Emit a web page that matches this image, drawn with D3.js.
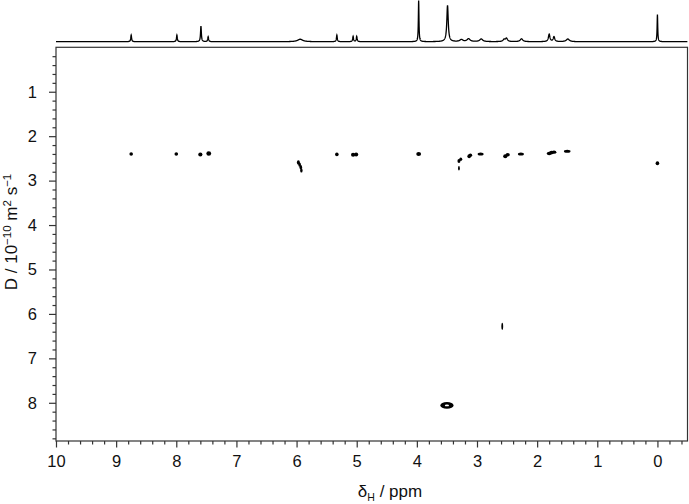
<!DOCTYPE html>
<html><head><meta charset="utf-8">
<script src="https://cdn.jsdelivr.net/npm/d3@7/dist/d3.min.js"></script>
<style>body{margin:0;background:#fff}svg{display:block}text{font-family:"Liberation Sans",Arial,sans-serif;fill:#111}</style>
</head><body><div id="chart"></div>
<script>
// 1D projection spectrum: peak positions (ppm), heights (rel.), half-widths (ppm)
const peakPpm    = [8.75, 7.99, 7.59, 7.47, 5.94, 5.33, 5.06, 5.00, 3.97, 3.49, 3.26, 3.14, 2.93, 2.55, 2.51, 2.26, 1.80, 1.72, 1.49, 0.00];
const peakHeight = [0.16, 0.16, 0.38, 0.12, 0.06, 0.16, 0.13, 0.13, 1.00, 0.88, 0.05, 0.07, 0.065, 0.05, 0.08, 0.07, 0.18, 0.12, 0.065, 0.66];
const peakWidth  = [0.008,0.008,0.008,0.008,0.05,0.008,0.008,0.008,0.006,0.014,0.03,0.03,0.03,0.02,0.02,0.025,0.015,0.015,0.03,0.006];

// DOSY contour blobs: centre (ppm, D) and half-sizes (ppm, D)
const blobPpm = [8.75, 8.00, 7.60, 7.46, 5.97, 5.95, 5.93, 5.92, 5.33, 5.06, 5.01, 3.97, 3.30, 3.27, 3.30, 3.13, 3.11, 2.94, 2.53, 2.49, 2.27, 1.80, 1.76, 1.72, 1.50, 0.00, 2.58, 3.50];
const blobD   = [2.40, 2.40, 2.41, 2.39, 2.59, 2.64, 2.70, 2.77, 2.41, 2.42, 2.41, 2.40, 2.56, 2.52, 2.72, 2.45, 2.43, 2.40, 2.45, 2.42, 2.40, 2.39, 2.37, 2.36, 2.34, 2.61, 6.28, 8.06];
const blobRx  = [0.03, 0.03, 0.035,0.04, 0.025,0.022,0.022,0.02, 0.03, 0.035,0.035,0.04, 0.025,0.025,0.015,0.03, 0.03, 0.05, 0.035,0.035,0.05, 0.04, 0.04, 0.04, 0.055,0.03, 0.015,0.11];
const blobRy  = [0.04, 0.04, 0.045,0.05, 0.05, 0.05, 0.05, 0.05, 0.04, 0.045,0.045,0.045,0.045,0.04, 0.05, 0.045,0.04, 0.035,0.045,0.04, 0.035,0.04, 0.04, 0.035,0.035,0.045,0.08, 0.075];
const holePpm = [3.50], holeD = [8.06], holeRx = [0.035], holeRy = [0.02];

const xMajor = [10,9,8,7,6,5,4,3,2,1,0];
const yMajor = [1,2,3,4,5,6,7,8];

const W = 689, H = 504;
const svg = d3.select("#chart").append("svg").attr("width", W).attr("height", H);

const x = d3.scaleLinear().domain([10, -0.5]).range([56, 687.5]);
const y = d3.scaleLinear().domain([0, 8.86]).range([47.3, 441]);
const sy = d3.scaleLinear().domain([0, 1]).range([41.7, 0.5]);

// spectrum
const grid = d3.range(10, -0.5, -0.002).concat(peakPpm).sort((a,b)=>b-a);
const spec = grid.map(p => {
  let v = 0;
  peakPpm.forEach((c,i)=>{ const t=(p-c)/peakWidth[i]; v += peakHeight[i]/(1+t*t); });
  return [p, Math.min(v, 1)];
});
svg.append("path").datum(spec)
  .attr("d", d3.line().x(d=>x(d[0])).y(d=>sy(d[1])))
  .attr("fill","none").attr("stroke","#000").attr("stroke-width",1.3);

// frame
const [x0,x1] = x.range(), [y0,y1] = y.range();
svg.append("rect").attr("x",x0).attr("y",y0).attr("width",x1-x0).attr("height",y1-y0)
  .attr("fill","none").attr("stroke","#333").attr("stroke-width",1.2);

const FONT = "Liberation Sans, Arial, sans-serif";

// x axis
const xMinor = d3.range(-0.4, 10.01, 0.2).map(v=>+v.toFixed(1)).filter(v=>!xMajor.includes(v));
const gxm = svg.append("g").attr("transform",`translate(0,${y1})`)
  .call(d3.axisBottom(x).tickValues(xMinor).tickSize(3.5).tickSizeOuter(0).tickFormat(""));
const gx = svg.append("g").attr("transform",`translate(0,${y1})`)
  .call(d3.axisBottom(x).tickValues(xMajor).tickSize(6.5).tickSizeOuter(0).tickFormat(d3.format("d")));
[gxm, gx].forEach(g=>{ g.select(".domain").remove(); g.selectAll("line").attr("stroke","#333").attr("stroke-width",1.2); });
gx.selectAll("text").attr("font-size",16.5).attr("y",14).attr("dy","0.71em").style("font-family",FONT).attr("fill","#111");

// y axis
const yMinor = d3.range(0.2, 8.81, 0.2).map(v=>+v.toFixed(1)).filter(v=>!yMajor.includes(v));
const gym = svg.append("g").attr("transform",`translate(${x0},0)`)
  .call(d3.axisLeft(y).tickValues(yMinor).tickSize(3.5).tickSizeOuter(0).tickFormat(""));
const gy = svg.append("g").attr("transform",`translate(${x0},0)`)
  .call(d3.axisLeft(y).tickValues(yMajor).tickSize(7).tickSizeOuter(0).tickFormat(d3.format("d")));
[gym, gy].forEach(g=>{ g.select(".domain").remove(); g.selectAll("line").attr("stroke","#333").attr("stroke-width",1.2); });
gy.selectAll("text").attr("font-size",16.5).attr("x",-19).style("font-family",FONT).attr("fill","#111");

// contour blobs
const blobs = blobPpm.map((p,i)=>({p, d:blobD[i], rx:blobRx[i], ry:blobRy[i]}));
svg.append("g").selectAll("ellipse").data(blobs).join("ellipse")
  .attr("cx",b=>x(b.p)).attr("cy",b=>y(b.d))
  .attr("rx",b=>Math.abs(x(b.p+b.rx)-x(b.p))).attr("ry",b=>Math.abs(y(b.d+b.ry)-y(b.d)))
  .attr("fill","#000");
const holes = holePpm.map((p,i)=>({p, d:holeD[i], rx:holeRx[i], ry:holeRy[i]}));
svg.append("g").selectAll("ellipse").data(holes).join("ellipse")
  .attr("cx",b=>x(b.p)).attr("cy",b=>y(b.d))
  .attr("rx",b=>Math.abs(x(b.p+b.rx)-x(b.p))).attr("ry",b=>Math.abs(y(b.d+b.ry)-y(b.d)))
  .attr("fill","#fff");

// x label
const xl = svg.append("text").attr("x",390).attr("y",497).attr("text-anchor","middle").attr("font-size",17);
xl.append("tspan").text("δ");
xl.append("tspan").attr("font-size",10.5).attr("dy",4).text("H");
xl.append("tspan").attr("dy",-4).text(" / ppm");

// y label
const yl = svg.append("text").attr("transform","translate(17,232) rotate(-90)").attr("text-anchor","middle").attr("font-size",17);
yl.append("tspan").text("D / 10");
yl.append("tspan").attr("font-size",11.5).attr("dy",-6).text("−10");
yl.append("tspan").attr("dy",6).text(" m");
yl.append("tspan").attr("font-size",11.5).attr("dy",-6).text("2");
yl.append("tspan").attr("dy",6).text(" s");
yl.append("tspan").attr("font-size",11.5).attr("dy",-6).text("−1");
</script></body></html>
